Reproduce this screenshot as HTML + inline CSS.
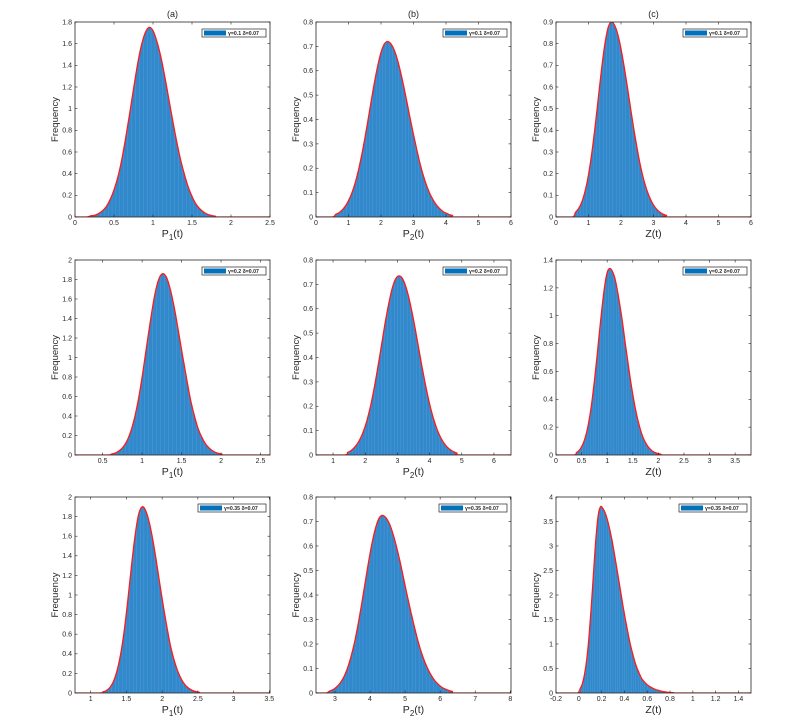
<!DOCTYPE html>
<html><head><meta charset="utf-8">
<style>
html,body{margin:0;padding:0;background:#fff;}
svg{display:block;font-family:"Liberation Sans",Arial,sans-serif;}
</style></head>
<body>
<svg id="chart" width="799" height="726" viewBox="0 0 799 726" xmlns="http://www.w3.org/2000/svg"></svg>
<script>
// ---- data ----
const a1Values = [.01,.015,.03,.055,.095,.16,.25,.37,.53,.73,.95,1.18,1.40,1.58,1.70,1.75,1.72,1.62,1.48,1.30,1.10,.90,.71,.54,.40,.28,.19,.12,.075,.045,.025,.014,.007];
const a1Start = 0.2, a1Step = 0.05;
const b1Values = [.01,.017,.028,.044,.067,.097,.137,.188,.25,.32,.397,.477,.553,.62,.675,.709,.72,.711,.687,.648,.596,.536,.47,.402,.338,.277,.22,.171,.13,.097,.071,.05,.035,.023,.016,.01,.006];
const b1Start = 0.6, b1Step = 0.1;
const c1Values = [.021,.04,.071,.122,.194,.293,.412,.546,.68,.794,.872,.9,.886,.843,.776,.691,.596,.496,.4,.313,.235,.172,.122,.084,.055,.035,.022,.013,.007];
const c1Start = 0.6, c1Step = 0.1;
const a2Values = [.009,.02,.043,.082,.147,.25,.40,.60,.85,1.13,1.40,1.64,1.80,1.86,1.82,1.69,1.50,1.27,1.03,.80,.58,.41,.27,.175,.106,.063,.034,.018,.009];
const a2Start = 0.61, a2Step = 0.05;
const b2Values = [.01,.017,.029,.045,.068,.099,.14,.192,.255,.327,.405,.487,.565,.633,.689,.724,.735,.725,.695,.648,.588,.52,.446,.372,.302,.239,.183,.137,.099,.07,.048,.032,.021,.013,.008];
const b2Start = 1.45, b2Step = 0.1;
const c2Values = [.017,.032,.059,.101,.165,.256,.378,.53,.70,.886,1.06,1.21,1.31,1.34,1.32,1.27,1.18,1.07,.95,.81,.68,.55,.435,.334,.25,.181,.127,.088,.059,.039,.024,.015,.009,.005];
const c2Start = 0.4, c2Step = 0.05;
const a3Values = [.01,.025,.057,.12,.23,.40,.64,.95,1.29,1.60,1.82,1.90,1.86,1.74,1.56,1.34,1.10,.87,.66,.47,.33,.22,.14,.084,.049,.027,.015,.008];
const a3Start = 1.17, a3Step = 0.05;
const b3Values = [.008,.014,.025,.041,.064,.098,.144,.201,.272,.353,.44,.527,.606,.669,.711,.725,.716,.692,.652,.6,.54,.473,.405,.34,.279,.222,.172,.131,.098,.071,.05,.035,.023,.016,.01,.006];
const b3Start = 2.85, b3Step = 0.1;
const c3Values = [.08,.18,.38,.69,1.16,1.78,2.48,3.15,3.62,3.8,3.77,3.68,3.54,3.35,3.13,2.87,2.59,2.31,2.02,1.74,1.48,1.24,1.01,.82,.65,.51,.40,.30,.24,.19,.15,.12,.095,.075,.058,.045,.034,.025,.018,.013,.009,.006];
const c3Start = 0.01, c3Step = 0.02;

const a1XTicks = [0,0.5,1,1.5,2,2.5];
const b1XTicks = [0,1,2,3,4,5,6];
const c1XTicks = [0,1,2,3,4,5,6];
const a2XTicks = [0.5,1,1.5,2,2.5];
const b2XTicks = [1,2,3,4,5,6];
const c2XTicks = [0,0.5,1,1.5,2,2.5,3,3.5];
const a3XTicks = [1,1.5,2,2.5,3,3.5];
const b3XTicks = [3,4,5,6,7,8];
const c3XTicks = [-0.2,0,0.2,0.4,0.6,0.8,1,1.2,1.4];
const a1YTicks = [0,0.2,0.4,0.6,0.8,1,1.2,1.4,1.6,1.8];
const b1YTicks = [0,0.1,0.2,0.3,0.4,0.5,0.6,0.7,0.8];
const c1YTicks = [0,0.1,0.2,0.3,0.4,0.5,0.6,0.7,0.8,0.9];
const a2YTicks = [0,0.2,0.4,0.6,0.8,1,1.2,1.4,1.6,1.8,2];
const b2YTicks = [0,0.1,0.2,0.3,0.4,0.5,0.6,0.7,0.8];
const c2YTicks = [0,0.2,0.4,0.6,0.8,1,1.2,1.4];
const a3YTicks = [0,0.2,0.4,0.6,0.8,1,1.2,1.4,1.6,1.8,2];
const b3YTicks = [0,0.1,0.2,0.3,0.4,0.5,0.6,0.7,0.8];
const c3YTicks = [0,0.5,1,1.5,2,2.5,3,3.5,4];
const gammaLabels = ["0.1","0.2","0.35"];

// ---- layout ----
const cols = [{l:75,r:270},{l:316,r:511},{l:556,r:751}];
const rows = [{t:22,b:217},{t:260,b:455},{t:497,b:693}];
const panels = [
 {id:'a1',r:0,c:0,vals:a1Values,start:a1Start,step:a1Step,xmin:0,xmax:2.5,ymax:1.8,xt:a1XTicks,yt:a1YTicks,xl:['P','1','(t)'],title:'(a)',lw:64},
 {id:'b1',r:0,c:1,vals:b1Values,start:b1Start,step:b1Step,xmin:0,xmax:6,ymax:0.8,xt:b1XTicks,yt:b1YTicks,xl:['P','2','(t)'],title:'(b)',lw:64},
 {id:'c1',r:0,c:2,vals:c1Values,start:c1Start,step:c1Step,xmin:0,xmax:6,ymax:0.9,xt:c1XTicks,yt:c1YTicks,xl:['Z(t)','',''],title:'(c)',lw:64},
 {id:'a2',r:1,c:0,vals:a2Values,start:a2Start,step:a2Step,xmin:0.15,xmax:2.62,ymax:2,xt:a2XTicks,yt:a2YTicks,xl:['P','1','(t)'],lw:64},
 {id:'b2',r:1,c:1,vals:b2Values,start:b2Start,step:b2Step,xmin:0.47,xmax:6.53,ymax:0.8,xt:b2XTicks,yt:b2YTicks,xl:['P','2','(t)'],lw:64},
 {id:'c2',r:1,c:2,vals:c2Values,start:c2Start,step:c2Step,xmin:0,xmax:3.81,ymax:1.4,xt:c2XTicks,yt:c2YTicks,xl:['Z(t)','',''],lw:64},
 {id:'a3',r:2,c:0,vals:a3Values,start:a3Start,step:a3Step,xmin:0.78,xmax:3.51,ymax:2,xt:a3XTicks,yt:a3YTicks,xl:['P','1','(t)'],lw:68},
 {id:'b3',r:2,c:1,vals:b3Values,start:b3Start,step:b3Step,xmin:2.46,xmax:8.02,ymax:0.8,xt:b3XTicks,yt:b3YTicks,xl:['P','2','(t)'],lw:68},
 {id:'c3',r:2,c:2,vals:c3Values,start:c3Start,step:c3Step,xmin:-0.2,xmax:1.51,ymax:4,xt:c3XTicks,yt:c3YTicks,xl:['Z(t)','',''],lw:68}
];
const NS='http://www.w3.org/2000/svg';
const svg=document.getElementById('chart');
function mk(tag,attrs,parent){const e=document.createElementNS(NS,tag);for(const k in attrs)e.setAttribute(k,attrs[k]);(parent||svg).appendChild(e);return e;}
const defs=mk('defs',{});
panels.forEach(p=>{
  const L=cols[p.c].l,R=cols[p.c].r,T=rows[p.r].t,B=rows[p.r].b;
  const xs=v=>L+(v-p.xmin)/(p.xmax-p.xmin)*(R-L);
  const ys=v=>B-v/p.ymax*(B-T);
  const g=mk('g',{});
  
  
  // curve path
  const pts=[[xs(p.xmin),ys(0)],[xs(p.start-p.step),ys(0)]];
  p.vals.forEach((v,i)=>pts.push([xs(p.start+i*p.step),ys(v)]));
  pts.push([xs(p.start+p.vals.length*p.step),ys(0)]);
  pts.push([xs(p.xmax),ys(0)]);
  let d='M'+pts[0][0]+','+pts[0][1];
  for(let i=0;i<pts.length-1;i++){
    const p0=pts[Math.max(0,i-1)],p1=pts[i],p2=pts[i+1],p3=pts[Math.min(pts.length-1,i+2)];
    const c1x=p1[0]+(p2[0]-p0[0])/6,c1y=p1[1]+(p2[1]-p0[1])/6;
    const c2x=p2[0]-(p3[0]-p1[0])/6,c2y=p2[1]-(p3[1]-p1[1])/6;
    d+=' C'+c1x+','+Math.min(c1y,B)+' '+c2x+','+Math.min(c2y,B)+' '+p2[0]+','+p2[1];
  }
  const cp=mk('clipPath',{id:'clip-'+p.id},defs);
  mk('rect',{x:L,y:T,width:R-L,height:B-T},cp);
  const ap=mk('clipPath',{id:'area-'+p.id},defs);
  mk('path',{d:d+' L'+xs(p.xmax)+','+B+' L'+xs(p.xmin)+','+B+' Z'},ap);
  const plot=mk('g',{'clip-path':'url(#clip-'+p.id+')'},g);
  const barsG=mk('g',{'clip-path':'url(#area-'+p.id+')'},plot);
  // bars
  p.vals.forEach((v,i)=>{
    const cx=p.start+i*p.step;
    const x0=xs(cx-p.step/2),x1=xs(cx+p.step/2);
    const top=Math.min(ys(v),ys(v*1.15+0.02*p.ymax));
    const b=mk('rect',{x:x0,y:top,width:Math.max(0,x1-x0),height:B-top,fill:'#3189cc',stroke:'#4f9bd6','stroke-width':0.3},barsG);
    
    
  });
  const cv=mk('path',{d:d,fill:'none',stroke:'#ff1a1a','stroke-width':1.3},plot);
  
  
  // box
  mk('rect',{x:L,y:T,width:R-L,height:B-T,fill:'none',stroke:'#262626','stroke-width':0.8},g);
  // ticks
  p.xt.forEach(t=>{
    const x=xs(t);
    mk('line',{x1:x,y1:B,x2:x,y2:B-2.5,stroke:'#262626','stroke-width':0.6},g);
    mk('line',{x1:x,y1:T,x2:x,y2:T+2.5,stroke:'#262626','stroke-width':0.6},g);
    const tl=mk('text',{x:x,y:B+8,'font-size':7,'text-anchor':'middle',fill:'#262626'},g);
    tl.textContent=String(t);
    
    
  });
  p.yt.forEach(t=>{
    const y=ys(t);
    mk('line',{x1:L,y1:y,x2:L+2.5,y2:y,stroke:'#262626','stroke-width':0.6},g);
    mk('line',{x1:R,y1:y,x2:R-2.5,y2:y,stroke:'#262626','stroke-width':0.6},g);
    const tl=mk('text',{x:L-3,y:y+2.4,'font-size':7,'text-anchor':'end',fill:'#262626'},g);
    tl.textContent=String(t);
    
    
  });
  // axis labels
  const yl=mk('text',{x:0,y:0,'font-size':9.5,'text-anchor':'middle',fill:'#262626',transform:'translate('+(L-17)+','+((T+B)/2)+') rotate(-90)'},g);
  yl.textContent='Frequency';
  
  
  const xl=mk('text',{x:(L+R)/2,y:B+20,'font-size':10.5,'text-anchor':'middle',fill:'#262626'},g);
  
  
  const s1=mk('tspan',{},xl);s1.textContent=p.xl[0];
  if(p.xl[1]){const s2=mk('tspan',{dy:3,'font-size':8},xl);s2.textContent=p.xl[1];const s3=mk('tspan',{dy:-3},xl);s3.textContent=p.xl[2];}
  if(p.title){
    const tt=mk('text',{x:(L+R)/2,y:T-5,'font-size':9,'text-anchor':'middle',fill:'#262626'},g);
    tt.textContent=p.title;
    
    
  }
  // legend
  const lx=R-4-p.lw,ly=T+7;
  const lg=mk('g',{},g);
  
  
  mk('rect',{x:lx,y:ly,width:p.lw,height:8,fill:'#fff',stroke:'#262626','stroke-width':0.7},lg);
  mk('rect',{x:lx+2,y:ly+1.5,width:22,height:5,fill:'#0072bd'},lg);
  const lt=mk('text',{x:lx+26,y:ly+6,'font-size':5.2,fill:'#262626','font-weight':'bold'},lg);
  lt.textContent='γ='+gammaLabels[p.r]+' δ=0.07';
});
</script>
</body></html>
